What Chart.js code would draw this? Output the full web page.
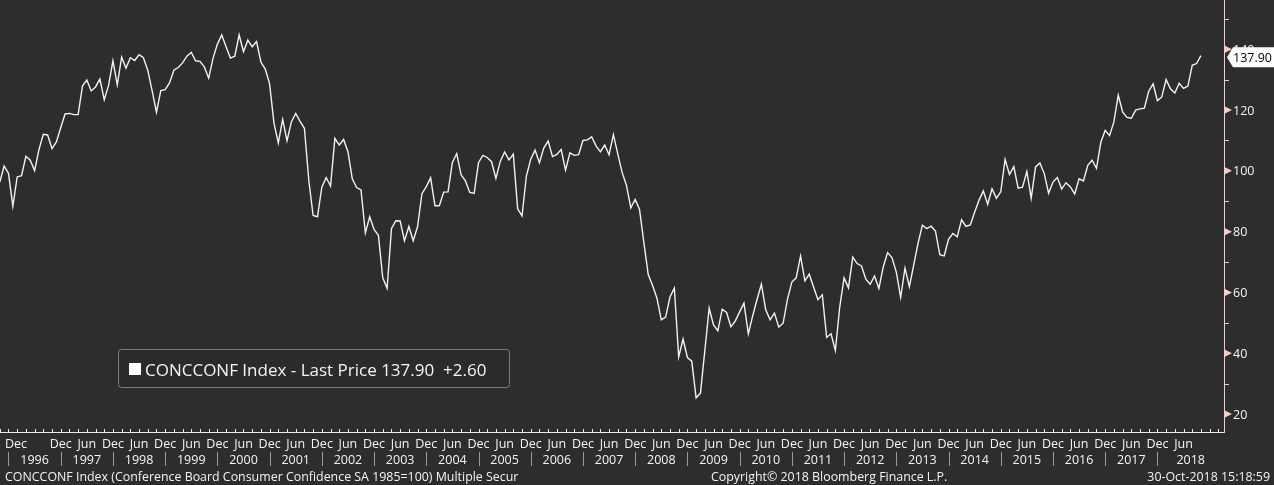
<!DOCTYPE html>
<html>
<head>
<meta charset="utf-8">
<script src="https://cdn.jsdelivr.net/npm/chart.js@4.4.1/dist/chart.umd.min.js"></script>
<style>
  html, body { margin: 0; padding: 0; background: #2d2d2d; }
  canvas { display: block; }
</style>
</head>
<body>
<canvas id="chart" width="1274" height="485"></canvas>
<script>
// Conference Board Consumer Confidence, monthly, Oct 1995 .. Oct 2018
const startYear = 1995;
const startMonth = 9; // October (0-based)

const conf = [
    96.3, 101.6, 99.2,
    88.4, 98.0, 98.4, 104.8, 103.5, 100.1, 107.0, 112.0, 111.8, 107.3, 109.5, 114.2,
    118.7, 118.9, 118.5, 118.5, 127.9, 129.9, 126.3, 127.6, 130.2, 123.4, 128.1, 136.2,
    128.3, 137.4, 133.8, 137.2, 136.3, 138.2, 137.2, 133.1, 126.4, 119.3, 126.4, 126.7,
    128.9, 133.1, 134.0, 135.5, 137.7, 139.0, 136.2, 136.0, 134.2, 130.5, 137.0, 141.7,
    144.7, 140.8, 137.1, 137.7, 144.7, 139.2, 143.0, 140.8, 142.5, 135.8, 133.5, 128.6,
    115.7, 109.2, 116.9, 109.9, 116.1, 118.9, 116.3, 114.0, 97.0, 85.3, 84.9, 94.6,
    97.8, 95.0, 110.7, 108.5, 110.3, 106.3, 97.4, 94.5, 93.7, 79.6, 84.9, 80.7,
    78.8, 64.8, 61.4, 81.0, 83.6, 83.5, 77.0, 81.7, 77.0, 81.7, 92.5, 94.8,
    97.7, 88.5, 88.5, 93.0, 93.1, 102.8, 105.7, 98.7, 96.7, 92.9, 92.6, 102.7,
    105.1, 104.4, 103.0, 97.5, 103.1, 106.2, 103.6, 105.5, 87.5, 85.2, 98.3, 103.8,
    106.8, 102.7, 107.5, 109.8, 104.7, 105.4, 107.0, 100.2, 105.9, 105.1, 105.3, 110.0,
    110.2, 111.2, 108.2, 106.3, 108.5, 105.3, 111.9, 105.6, 99.5, 95.2, 87.8, 90.6,
    87.3, 76.4, 65.9, 62.3, 58.1, 51.0, 51.9, 58.5, 61.4, 38.8, 44.7, 38.6,
    37.4, 25.3, 26.9, 40.8, 54.8, 49.3, 47.4, 54.5, 53.4, 48.7, 50.6, 53.6,
    56.5, 46.4, 52.3, 57.7, 62.7, 54.3, 51.0, 53.2, 48.6, 49.9, 57.8, 63.4,
    64.8, 72.0, 63.8, 66.0, 61.7, 57.6, 59.2, 45.2, 46.4, 40.9, 55.2, 64.8,
    61.5, 71.6, 69.5, 68.7, 64.4, 62.7, 65.4, 61.3, 68.4, 73.1, 71.5, 66.7,
    58.4, 68.0, 61.9, 69.0, 76.2, 82.1, 81.0, 81.8, 80.2, 72.4, 72.0, 77.5,
    79.4, 78.3, 83.9, 81.7, 82.2, 86.4, 90.3, 93.4, 89.0, 94.1, 91.0, 93.1,
    103.8, 98.8, 101.4, 94.3, 94.6, 99.8, 91.0, 101.3, 102.6, 99.1, 92.6, 96.3,
    97.8, 94.0, 96.1, 94.7, 92.4, 97.4, 96.7, 101.8, 103.5, 100.8, 109.4, 113.3,
    111.6, 116.1, 124.9, 119.4, 117.6, 117.3, 120.0, 120.4, 120.6, 126.2, 128.6, 123.1,
    124.3, 130.0, 127.0, 125.6, 128.8, 127.1, 127.9, 134.7, 135.3, 137.9
];

const monthNames = ['Jan','Feb','Mar','Apr','May','Jun','Jul','Aug','Sep','Oct','Nov','Dec'];
const labelMonths = [11, 5];          // Dec, Jun shown on the top row
const yMajor = [20, 40, 60, 80, 100, 120, 140];
const yMinor = [30, 50, 70, 90, 110, 130, 150];

const ticker = 'CONCCONF';
const footLeft = 'CONCCONF Index (Conference Board Consumer Confidence SA 1985=100) Multiple Secur';
const footMid = 'Copyright\u00A9 2018 Bloomberg Finance L.P.';
const footRight = '30-Oct-2018 15:18:59';

const BG = '#2d2d2d';
const TXT = '#f4f4f4';
const PINK = '#f3cccc';
const FONT = '"Open Sans", "DejaVu Sans", sans-serif';

const monthOf = i => (startMonth + i) % 12;
const yearOf = i => startYear + Math.floor((startMonth + i) / 12);
const lastIdx = conf.length - 1;

// Background
const bgPlugin = {
    id: 'bg',
    beforeDraw(chart) {
        const c = chart.ctx;
        c.save();
        c.fillStyle = BG;
        c.fillRect(0, 0, chart.width, chart.height);
        c.restore();
    }
};

// Bloomberg-style axes, legend box and footer
const decoPlugin = {
    id: 'deco',
    afterDraw(chart) {
        const c = chart.ctx;
        const xs = chart.scales.x, ys = chart.scales.y;
        const a = chart.chartArea;
        c.save();

        // axis lines
        c.lineWidth = 1;
        c.strokeStyle = '#eeeaea';
        c.beginPath();
        c.moveTo(0, a.bottom + 0.5);
        c.lineTo(a.right, a.bottom + 0.5);
        c.stroke();
        c.strokeStyle = PINK;
        c.beginPath();
        c.moveTo(a.right + 0.5, 0);
        c.lineTo(a.right + 0.5, a.bottom + 1);
        c.stroke();

        // bottom ticks every 2 months
        c.strokeStyle = '#eeeaea';
        for (let i = 0; i <= xs.max; i++) {
            if (monthOf(i) % 2 !== 1) continue;
            const x = Math.round(xs.getPixelForValue(i)) + 0.5;
            c.beginPath();
            c.moveTo(x, a.bottom);
            c.lineTo(x, a.bottom - 3);
            c.stroke();
        }

        // month row
        c.font = '12.5px ' + FONT;
        c.fillStyle = TXT;
        c.textBaseline = 'alphabetic';
        c.textAlign = 'left';
        let lastRight = -99;
        for (let i = 0; i <= lastIdx; i++) {
            if (!labelMonths.includes(monthOf(i))) continue;
            const t = monthNames[monthOf(i)];
            const w = c.measureText(t).width;
            let left = Math.max(xs.getPixelForValue(i) - w / 2, 5);
            if (left < lastRight + 3) continue;
            c.fillText(t, left, a.bottom + 16);
            lastRight = left + w;
        }

        // year row with dividers at each December
        const decs = [];
        for (let i = 0; i <= lastIdx; i++) if (monthOf(i) === 11) decs.push(i);
        c.strokeStyle = '#9a9a9a';
        decs.forEach(i => {
            const x = Math.round(xs.getPixelForValue(i)) + 0.5;
            c.beginPath();
            c.moveTo(x, a.bottom + 20);
            c.lineTo(x, a.bottom + 34);
            c.stroke();
        });
        c.textAlign = 'center';
        decs.forEach((i, k) => {
            const x0 = xs.getPixelForValue(i);
            const x1 = k + 1 < decs.length ? xs.getPixelForValue(decs[k + 1]) : a.right;
            c.fillText(String(yearOf(i) + 1), (x0 + x1) / 2, a.bottom + 32);
        });

        // right axis: minor ticks, markers and labels
        c.strokeStyle = PINK;
        yMinor.forEach(v => {
            const y = Math.round(ys.getPixelForValue(v)) + 0.5;
            c.beginPath();
            c.moveTo(a.right, y);
            c.lineTo(a.right + 5, y);
            c.stroke();
        });
        c.textAlign = 'left';
        c.textBaseline = 'middle';
        yMajor.forEach(v => {
            const y = ys.getPixelForValue(v);
            c.fillStyle = PINK;
            c.beginPath();
            c.moveTo(a.right + 1, y - 3.5);
            c.lineTo(a.right + 8, y);
            c.lineTo(a.right + 1, y + 3.5);
            c.closePath();
            c.fill();
            c.fillStyle = TXT;
            c.fillText(String(v), a.right + 9, y + 1);
        });

        // last price tag
        const last = conf[lastIdx];
        const ty = ys.getPixelForValue(last) + 1.5;
        c.fillStyle = '#ffffff';
        c.beginPath();
        c.moveTo(a.right + 3, ty);
        c.lineTo(a.right + 9, ty - 10);
        c.lineTo(chart.width, ty - 10);
        c.lineTo(chart.width, ty + 10);
        c.lineTo(a.right + 9, ty + 10);
        c.closePath();
        c.fill();
        c.fillStyle = '#000';
        c.fillText(last.toFixed(2), a.right + 9, ty + 1);

        // legend box
        const chg = last - conf[lastIdx - 1];
        c.strokeStyle = '#7c7c7c';
        c.fillStyle = '#2b2b2b';
        c.beginPath();
        c.roundRect(118.5, 349.5, 391, 38, 3);
        c.fill();
        c.stroke();
        c.fillStyle = '#ffffff';
        c.fillRect(129, 363, 12, 12);
        c.font = '17px ' + FONT;
        c.fillStyle = TXT;
        c.textBaseline = 'alphabetic';
        c.fillText(`${ticker} Index - Last Price ${last.toFixed(2)}  +${chg.toFixed(2)}`, 145, 376);

        // footer
        c.font = '12.4px ' + FONT;
        c.fillText(footLeft, 5, 481);
        c.fillText(footMid, 711, 481);
        c.textAlign = 'right';
        c.fillText(footRight, 1270, 481);

        c.restore();
    }
};

new Chart(document.getElementById('chart'), {
    type: 'line',
    data: {
        datasets: [{
            label: ticker,
            data: conf.map((v, i) => ({ x: i, y: v })),
            borderColor: '#f2f2f2',
            borderWidth: 1.4,
            pointRadius: 0,
            tension: 0
        }]
    },
    options: {
        responsive: false,
        animation: false,
        devicePixelRatio: 1,
        layout: { padding: { left: 0, top: 0, right: 50, bottom: 53 } },
        plugins: { legend: { display: false }, tooltip: { enabled: false } },
        scales: {
            x: { type: 'linear', min: 0.05, max: 281.3, display: false },
            y: { min: 14.1, max: 156.2, display: false }
        }
    },
    plugins: [bgPlugin, decoPlugin]
});
</script>
</body>
</html>
